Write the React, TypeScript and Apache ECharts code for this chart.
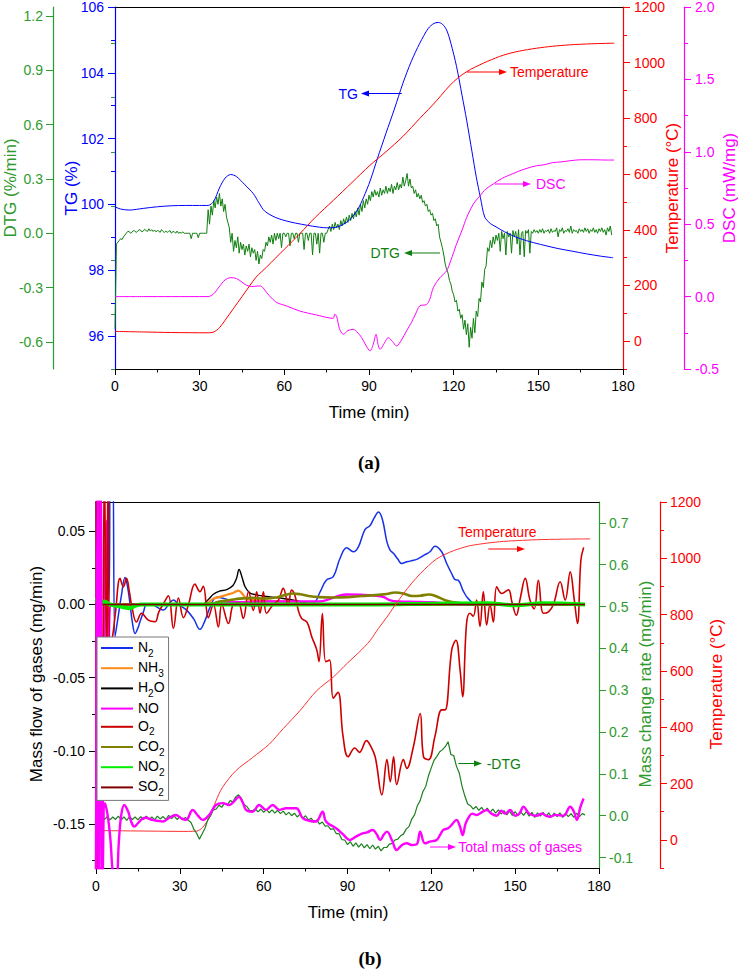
import React, { useEffect, useRef } from 'react';
import * as echarts from 'echarts';

const FONT = '"Liberation Sans", Arial, Helvetica, sans-serif';

// ---------- Panel (a) ----------
const tgData = [[0, 99.93], [2, 99.86], [5, 99.83], [10, 99.88], [15, 99.93], [20, 99.96], [25, 99.97], [30, 99.97], [33, 99.97], [35, 100.1], [37, 100.5], [39, 100.8], [41, 100.91], [43, 100.85], [46, 100.6], [49, 100.33], [51, 100.05], [53, 99.8], [57, 99.6], [62, 99.47], [66, 99.4], [70, 99.34], [75, 99.29], [78, 99.3], [80, 99.36], [83, 99.52], [86, 99.85], [88, 100.2], [90.5, 100.74], [93, 101.4], [96, 102.16], [99, 102.9], [102, 103.68], [105, 104.35], [108, 104.9], [111, 105.35], [113, 105.5], [114.5, 105.53], [116, 105.48], [117.5, 105.3], [119, 104.9], [121, 104.2], [123, 103.3], [124.6, 102.56], [126.5, 101.6], [128, 100.84], [129.5, 100.2], [131, 99.62], [133, 99.42], [135, 99.32], [138, 99.17], [142, 99.01], [147, 98.87], [152, 98.76], [157, 98.66], [162, 98.58], [167, 98.5], [172, 98.43], [176.5, 98.38]];

const tempAData = [[0, 35], [10, 33], [20, 31], [33, 30], [35, 33], [37, 48], [39, 75], [41.9, 116], [45, 160], [47.8, 200], [50, 230], [53.7, 266], [60, 330], [65.5, 386], [71, 445], [77.3, 505], [84, 570], [90.3, 631], [96, 680], [102, 735], [108, 800], [114, 864], [117, 900], [120, 932], [123, 957], [126, 976], [129, 991], [132, 1005], [137.6, 1027], [143, 1041], [149.4, 1052], [155, 1059], [161, 1064], [169, 1068], [176.9, 1070]];

const dscData = [[0, 0.0], [10, 0.0], [20, 0.0], [33, 0.0], [35, 0.02], [37, 0.07], [39, 0.115], [41, 0.131], [43, 0.125], [45, 0.1], [46.6, 0.078], [48.5, 0.07], [50, 0.072], [51.4, 0.074], [52.5, 0.06], [53.7, 0.028], [55.5, -0.01], [57.3, -0.041], [61, -0.066], [65.5, -0.1], [71, -0.125], [77.3, -0.15], [77.9, -0.122], [78.6, -0.14], [79.5, -0.22], [80.9, -0.26], [82.5, -0.235], [84.4, -0.226], [85.8, -0.245], [87.4, -0.283], [89, -0.34], [90.4, -0.375], [91.5, -0.33], [92.5, -0.26], [93.2, -0.33], [93.9, -0.364], [95.5, -0.32], [96.8, -0.283], [98.3, -0.31], [99.8, -0.341], [101.5, -0.3], [103.3, -0.237], [105, -0.18], [106.5, -0.12], [108, -0.064], [110.4, -0.055], [111.5, -0.02], [112.8, 0.062], [115.1, 0.13], [117.5, 0.178], [119, 0.25], [121, 0.362], [123, 0.46], [124.6, 0.546], [127, 0.64], [129.3, 0.695], [131.5, 0.745], [134, 0.777], [137, 0.815], [141.1, 0.85], [145, 0.88], [149.4, 0.904], [152, 0.91], [155, 0.925], [158, 0.93], [161.2, 0.938], [165, 0.945], [170, 0.945], [174, 0.943], [176.9, 0.943]];

// DTG (%/min), one value every half minute from t = 0
const dtgA = [
  -0.53, -0.06, -0.05, -0.04, -0.03, -0.035, -0.02, -0.01, 0.0, 0.01, 0.01, 0.0, 0.005, 0.015, 0.012, 0.005, 0.01, 0.02, 0.018, 0.008,
  0.012, 0.022, 0.015, 0.01, 0.025, 0.012, 0.02, 0.01, 0.018, 0.008, 0.015, 0.012, 0.005, 0.02, 0.01, 0.004, 0.012, 0.005, 0.01, 0.015,
  0.0, 0.01, 0.008, 0.0, 0.012, 0.0, 0.005, 0.0, 0.008, 0.0, 0.0, 0.0, 0.0, 0.0, -0.03, 0.0, 0.0, 0.0, 0.0, -0.025,
  0.0, 0.0, 0.0, 0.0, 0.0, 0.0, 0.13, 0.05, 0.15, 0.1, 0.18, 0.14, 0.2, 0.16, 0.22, 0.15, 0.19, 0.12, 0.16, 0.09,
  0.06, 0.03, -0.05, 0.0, -0.1, -0.04, -0.08, -0.02, -0.11, -0.05, -0.09, -0.06, -0.12, -0.07, -0.1, -0.06, -0.13, -0.08, -0.11, -0.09,
  -0.15, -0.1, -0.17, -0.12, -0.14, -0.09, -0.1, -0.05, -0.07, -0.02, -0.05, -0.01, -0.06, 0.0, -0.04, 0.0, -0.03, 0.0, -0.08, 0.0,
  0.0, -0.02, 0.0, 0.0, -0.07, 0.0, 0.0, -0.03, 0.0, 0.0, -0.05, 0.0, 0.0, 0.0, -0.09, 0.0, 0.0, -0.04, 0.0, 0.0,
  -0.12, 0.0, 0.0, -0.06, 0.0, -0.11, 0.0, 0.0, -0.05, 0.0, 0.0, 0.02, 0.04, 0.01, 0.05, 0.02, 0.06, 0.03, 0.05, 0.02,
  0.07, 0.04, 0.08, 0.05, 0.09, 0.06, 0.1, 0.07, 0.11, 0.08, 0.12, 0.09, 0.14, 0.1, 0.16, 0.12, 0.18, 0.14, 0.19, 0.16,
  0.21, 0.18, 0.23, 0.2, 0.24, 0.21, 0.23, 0.2, 0.25, 0.21, 0.24, 0.22, 0.26, 0.22, 0.25, 0.23, 0.27, 0.22, 0.26, 0.24,
  0.28, 0.24, 0.27, 0.25, 0.31, 0.26, 0.29, 0.33, 0.26, 0.3, 0.25, 0.26, 0.22, 0.24, 0.2, 0.22, 0.19, 0.21, 0.17, 0.18,
  0.15, 0.16, 0.12, 0.13, 0.1, 0.11, 0.07, 0.08, 0.04, 0.05, -0.02, -0.05, -0.08, -0.12, -0.17, -0.2, -0.22, -0.26, -0.28, -0.32,
  -0.34, -0.38, -0.37, -0.43, -0.42, -0.47, -0.45, -0.53, -0.48, -0.56, -0.5, -0.63, -0.52, -0.58, -0.47, -0.55, -0.43, -0.46, -0.36, -0.38,
  -0.27, -0.3, -0.2, -0.18, -0.08, -0.1, -0.04, -0.08, -0.02, -0.06, -0.01, -0.04, 0.0, -0.1, 0.01, -0.03, 0.0, -0.12, 0.01, -0.02,
  0.0, -0.11, 0.015, -0.02, 0.01, -0.06, 0.02, -0.12, 0.0, 0.01, -0.13, 0.015, 0.0, 0.02, -0.11, 0.01, 0.0, 0.02, 0.005, 0.015,
  0.0, 0.02, 0.005, 0.025, 0.0, 0.015, 0.01, 0.02, 0.0, 0.025, 0.005, 0.015, 0.01, 0.03, -0.02, 0.02, 0.01, 0.03, 0.0, 0.015,
  0.01, 0.025, 0.005, 0.04, 0.0, 0.02, 0.01, 0.015, 0.0, 0.025, 0.01, 0.02, 0.005, 0.03, 0.01, 0.025, 0.0, 0.02, 0.01, 0.03,
  0.005, 0.02, 0.0, 0.025, 0.01, 0.03, 0.005, 0.02, -0.01, 0.03, 0.01, 0.04, -0.01];

// ---------- Panel (b) ----------
const gasNames = ['N2', 'NH3', 'H2O', 'NO', 'O2', 'CO2', 'NO2', 'SO2'];

const n2Data = [[0, 0.1], [0.4, -0.2], [0.9, 0.1], [1.5, 0.0], [2.5, 0.0], [4.5, 0.0], [5.2, 0.1], [5.9, 0.1], [6.8, -0.022], [7.8, -0.01], [9, 0.005], [10.4, 0.0184], [11.3, 0.012], [12.2, 0.0], [13, -0.012], [14, -0.0198], [15, -0.016], [15.7, -0.012], [17, -0.005], [18.1, 0.0], [20, 0.0], [22, -0.002], [24.1, -0.0038], [26, 0.0], [27.7, 0.003], [29.5, 0.0], [32.5, -0.004], [35, -0.01], [37.2, -0.017], [39, -0.011], [40.8, -0.002], [43.1, 0.005], [46, 0.004], [49.1, 0.002], [52, 0.001], [56.3, -0.001], [61, 0.0], [67, 0.0], [73, 0.0], [77.8, 0.001], [80.2, 0.0086], [82.4, 0.0166], [84.9, 0.019], [87.3, 0.0314], [89.7, 0.0387], [92.1, 0.036], [93.9, 0.0394], [96.2, 0.051], [98.1, 0.054], [99.5, 0.059], [101.1, 0.0632], [102.5, 0.058], [104.1, 0.0428], [105.3, 0.037], [106.5, 0.0348], [108, 0.031], [109.4, 0.028], [111, 0.029], [112.4, 0.0296], [115, 0.031], [117.7, 0.034], [119.5, 0.036], [121.3, 0.0398], [123.7, 0.036], [125.5, 0.028], [127.3, 0.021], [128.5, 0.017], [129.6, 0.0166], [131.5, 0.009], [133.2, 0.004], [136.2, 0.0], [140, 0.0], [150, 0.0], [160, 0.0], [175, 0.0]];

const nh3Data = [[0, 0], [38, 0], [40, 0.001], [42, 0.004], [44, 0.005], [46.8, 0.0066], [49, 0.0078], [51, 0.0095], [52.5, 0.007], [53.8, 0.004], [56, 0.003], [60, 0.0027], [65, 0.0022], [70, 0.002], [75, 0.001], [80, 0.0], [175, 0]];

const h2oData = [[0, 0], [38, 0], [39, 0.001], [40.5, 0.004], [42, 0.007], [44, 0.009], [46.8, 0.0102], [49, 0.013], [50.3, 0.018], [51.2, 0.0239], [52.2, 0.019], [53.4, 0.0119], [55, 0.008], [56.3, 0.007], [61, 0.0055], [67, 0.0041], [73, 0.002], [75.5, 0.0007], [78, 0], [175, 0]];

const noData = [[0, -0.2], [0.4, 0.1], [0.9, -0.2], [1.5, 0.1], [2.2, -0.2], [3, 0.0], [3.8, 0.057], [4.5, -0.03], [5.5, 0.0], [40, 0], [45, 0.002], [50, 0.0015], [60, 0.002], [70, 0.002], [80, 0.002], [84, 0.004], [87, 0.006], [90, 0.0068], [95, 0.0066], [100, 0.006], [103, 0.005], [105, 0.003], [108, 0.002], [115, 0.0018], [120, 0.0015], [125, 0.0008], [130, 0.0], [175, 0]];

const o2Data = [[0, 0.1], [0.7, -0.2], [1.5, 0.1], [2.3, -0.1], [3, 0.1], [3.8, -0.05], [4.3, 0.1], [5, -0.03], [6, -0.021], [7, -0.005], [8.6, 0.0178], [9.8, 0.012], [10.9, 0.0178], [12, 0.008], [12.7, 0.0], [14.5, -0.012], [16.3, -0.006], [18.7, -0.0107], [21.1, -0.0118], [22.5, -0.005], [24, 0.0], [25.9, 0.006], [27.7, -0.0164], [29.5, 0.0044], [31.3, -0.009], [33.1, 0.0], [35.4, 0.0139], [37.2, 0.0087], [38.4, 0.0125], [40.2, -0.009], [42, 0.0], [43.8, -0.0153], [45, 0.0], [47.4, -0.013], [49.1, 0.0], [50.9, 0.001], [52.7, -0.0096], [54.6, 0.0087], [56.3, -0.004], [57.5, 0.0087], [58.7, -0.006], [59.9, 0.0087], [61, -0.006], [63.4, 0.0], [65.3, 0.003], [67, 0.011], [68.8, 0.0], [70, 0.0098], [71.2, 0.006], [72.4, -0.004], [73.6, -0.0096], [75.5, -0.012], [77.2, -0.022], [79, -0.031], [79.8, -0.039], [81, -0.0062], [82.2, -0.039], [83.6, -0.038], [84.9, -0.064], [86.6, -0.06], [88.4, -0.09], [90.2, -0.104], [92.6, -0.098], [94.3, -0.101], [96.8, -0.093], [98.1, -0.096], [99.9, -0.104], [102.3, -0.13], [104.1, -0.106], [105.3, -0.121], [106.5, -0.104], [107.6, -0.123], [110, -0.106], [111.2, -0.112], [113.6, -0.097], [116, -0.0745], [117.2, -0.104], [119, -0.106], [121.3, -0.09], [123.7, -0.072], [124.9, -0.072], [127.3, -0.031], [128.8, -0.0244], [130.3, -0.045], [131.2, -0.063], [132.6, -0.013], [133.8, -0.006], [135, -0.008], [136.2, 0.003], [137.4, -0.015], [138.6, 0.0086], [139.8, -0.014], [141, 0.0], [142.2, -0.012], [143.4, 0.012], [145.2, 0.0075], [147.6, 0.01], [148.8, 0.002], [150.4, -0.0073], [151.8, 0.004], [153.6, 0.0178], [155.3, 0.003], [156.8, -0.003], [158.3, 0.0166], [160.1, -0.006], [161.9, -0.005], [163.7, 0.0], [166.1, 0.0155], [167.9, 0.003], [169.7, 0.0223], [171.1, 0.004], [172.3, -0.013], [173.5, 0.03], [174.5, 0.039]];

const co2Data = [[0, 0], [40, 0], [44.4, 0.002], [48, 0.003], [51.5, 0.004], [56, 0.0045], [60, 0.004], [65, 0.005], [70.5, 0.0075], [73, 0.007], [76, 0.0058], [80, 0.005], [85, 0.0048], [90, 0.005], [95, 0.0058], [100, 0.0064], [104, 0.0072], [107, 0.0082], [110, 0.0075], [113, 0.0058], [116, 0.006], [119, 0.0068], [121, 0.0062], [124.9, 0.0029], [127, 0.0018], [130, 0.001], [134, 0.0], [175, 0]];

const no2Data = [[0, 0.002], [0.5, 0.003], [1.5, 0.001], [3, 0.002], [5, 0.0], [8, -0.001], [10, -0.002], [12, -0.0025], [14, -0.001], [16, 0.0], [100, 0.0], [120, 0.0005], [140, 0.0008], [150, -0.0005], [160, 0.0008], [175, 0.0]];

const so2Data = [[0, -0.2], [0.5, 0.1], [1, 0.0], [175, 0.0]];

const tempBData = [[0, 33], [10, 32], [20, 31], [30, 30], [36, 31], [38.2, 45], [40.6, 80], [43, 140], [45.3, 187], [50.1, 246], [56, 292], [62, 340], [67, 395], [73, 459], [79, 530], [84.9, 578], [90, 628], [94, 665], [98.1, 708], [101, 750], [104.1, 791], [107, 833], [110, 874], [113, 912], [116, 945], [119, 974], [121.9, 998], [124.9, 1014], [127.9, 1027], [130.9, 1037], [133.9, 1045], [140, 1054], [145.8, 1060], [151, 1063], [157.7, 1066], [167, 1068], [176.8, 1069]];

// -DTG (mg/min), one value per minute from t = 0
const negDtgB = [
  0.02, 0.002, -0.001, -0.009, -0.002, -0.01, -0.003, -0.009, -0.001, -0.01,
  -0.003, -0.011, -0.002, -0.009, -0.003, -0.01, -0.002, -0.009, -0.001, -0.009,
  -0.003, -0.01, -0.001, -0.008, -0.002, -0.009, 0.001, -0.007, -0.001, -0.009,
  -0.002, -0.01, -0.004, -0.011, -0.016, -0.032, -0.042, -0.056, -0.043, -0.03,
  -0.01, 0.0, 0.014, 0.016, 0.025, 0.02, 0.03, 0.026, 0.036, 0.033,
  0.045, 0.05, 0.042, 0.026, 0.022, 0.012, 0.012, 0.016, 0.009, 0.016,
  0.008, 0.015, 0.007, 0.014, 0.006, 0.013, 0.005, 0.011, 0.002, 0.008,
  0.0, 0.006, -0.003, 0.004, -0.006, 0.0, -0.01, -0.006, -0.015, -0.01,
  -0.02, -0.015, -0.025, -0.024, -0.033, -0.031, -0.043, -0.043, -0.057, -0.058,
  -0.069, -0.062, -0.073, -0.065, -0.075, -0.067, -0.077, -0.069, -0.079, -0.07,
  -0.08, -0.073, -0.084, -0.076, -0.076, -0.068, -0.066, -0.058, -0.056, -0.048,
  -0.044, -0.032, -0.026, -0.008, 0.002, 0.024, 0.036, 0.058, 0.07, 0.096,
  0.115, 0.133, 0.142, 0.153, 0.158, 0.165, 0.177, 0.146, 0.144, 0.118,
  0.102, 0.07, 0.047, 0.028, 0.024, 0.016, 0.022, 0.013, 0.02, 0.01,
  0.018, 0.008, 0.016, 0.006, 0.014, 0.004, 0.012, 0.002, 0.011, 0.001,
  0.01, 0.0, 0.009, 0.001, 0.01, -0.001, 0.008, -0.004, 0.007, -0.001,
  0.008, -0.002, 0.007, -0.003, 0.006, -0.002, 0.007, -0.004, 0.006, -0.002,
  0.005, -0.004, 0.006, -0.002, 0.005, 0.002];

const totalGasData = [[0, -0.2], [0.5, 0.8], [1.1, -0.2], [1.7, 0.8], [2.4, -0.15], [3.2, 0.03], [4.2, 0.0], [5.2, -0.06], [6.1, -0.14], [7.2, -0.16], [8.2, -0.06], [9, 0.0], [10.1, 0.0256], [11.5, 0.01], [12.5, -0.012], [13.7, -0.026], [15, -0.018], [16.5, -0.008], [17.9, -0.005], [20, -0.01], [22, -0.012], [23.9, -0.014], [26, -0.006], [28.6, 0.0017], [30.5, -0.006], [32.2, -0.01], [34.6, 0.0137], [36.5, 0.0], [38.2, -0.01], [40.5, 0.0017], [42.9, 0.0256], [45.3, 0.03], [47.7, 0.0256], [49.5, 0.035], [51.1, 0.045], [52.5, 0.032], [53.7, 0.014], [56, 0.0096], [58.4, 0.0256], [60.8, 0.014], [63.2, 0.0256], [65.6, 0.014], [68, 0.0177], [71.6, 0.0177], [74, -0.006], [76.3, -0.012], [78.7, -0.014], [81.1, 0.0096], [82.3, -0.014], [85.9, -0.03], [88.5, -0.045], [90.7, -0.058], [93, -0.05], [95.4, -0.042], [97, -0.04], [99, -0.034], [100.5, -0.045], [101.7, -0.058], [103, -0.045], [104.1, -0.038], [106, -0.06], [107.6, -0.082], [109.5, -0.07], [111.2, -0.066], [113, -0.07], [114.8, -0.068], [116, -0.038], [117.7, -0.066], [119.5, -0.062], [121.9, -0.058], [123.2, -0.045], [124.3, -0.034], [126, -0.03], [127.5, -0.02], [129, -0.01], [130.2, -0.025], [131.2, -0.046], [132.2, -0.02], [133.2, -0.006], [134.6, 0.005], [136.2, 0.0017], [138, 0.008], [139.8, 0.0137], [141.5, 0.005], [143.4, 0.0], [145, 0.012], [146.5, 0.005], [148.2, 0.0137], [150, 0.0], [151.5, 0.005], [153, 0.0216], [155, 0.005], [157.7, 0.0], [159.5, 0.005], [161, 0.0], [162.5, -0.0024], [164.5, 0.002], [167.3, 0.0], [169.7, 0.0216], [171, 0.01], [172.1, -0.01], [173.3, 0.02], [174.5, 0.041]];

// ---------- tick labels ----------
const tgMajor = [96, 98, 100, 102, 104, 106];
const tgMinor = [95, 97, 99, 101, 103, 105];
const dtgMajor = [-0.6, -0.3, 0, 0.3, 0.6, 0.9, 1.2];
const dtgMinor = [-0.75, -0.45, -0.15, 0.15, 0.45, 0.75, 1.05];
const tempMajor = [0, 200, 400, 600, 800, 1000, 1200];
const tempMinor = [-100, 100, 300, 500, 700, 900, 1100];
const dscMajor = [-0.5, 0, 0.5, 1, 1.5, 2];
const dscMinor = [-0.25, 0.25, 0.75, 1.25, 1.75];
const flowMajor = [-0.15, -0.1, -0.05, 0, 0.05];
const flowMinor = [-0.175, -0.125, -0.075, -0.025, 0.025];
const rateMajor = [-0.1, 0, 0.1, 0.2, 0.3, 0.4, 0.5, 0.6, 0.7];
const rateMinor = [-0.05, 0.05, 0.15, 0.25, 0.35, 0.45, 0.55, 0.65];

const C = {
  blue: '#0000FF',
  red: '#FF0000',
  magenta: '#FF00FF',
  greenAxis: '#2E9A2E',
  greenLine: '#0F7F0F',
};

function yPair(o: any) {
  const base = {
    type: 'value', gridIndex: o.grid, position: o.pos, offset: o.offset, min: o.min, max: o.max,
    splitLine: { show: false }, minorTick: { show: false }, minorSplitLine: { show: false },
  };
  const main = {
    ...base,
    axisLine: { show: true, onZero: false, lineStyle: { color: o.color, width: 1.2 } },
    axisTick: { show: true, inside: false, length: 7, customValues: o.major, lineStyle: { color: o.color } },
    axisLabel: { show: true, customValues: o.major, formatter: o.fmt, color: o.color, fontSize: 14, fontFamily: FONT, margin: o.margin },
  };
  const minor = {
    ...base,
    axisLine: { show: false },
    axisTick: { show: true, inside: false, length: 4, customValues: o.minor, lineStyle: { color: o.color } },
    axisLabel: { show: false },
  };
  return [main, minor];
}

function xPair(grid: number, margin: number) {
  return [
    {
      type: 'value', gridIndex: grid, position: 'bottom', min: 0, max: 180, interval: 30,
      axisLine: { show: true, onZero: false, lineStyle: { color: '#000', width: 1.2 } },
      axisTick: { show: true, inside: false, length: 6, lineStyle: { color: '#000' } },
      minorTick: { show: true, splitNumber: 2, length: 3.5, lineStyle: { color: '#000' } },
      axisLabel: { color: '#000', fontSize: 14, fontFamily: FONT, margin },
      splitLine: { show: false },
    },
    {
      type: 'value', gridIndex: grid, position: 'top', min: 0, max: 180,
      axisLine: { show: true, onZero: false, lineStyle: { color: '#000', width: 1.2 } },
      axisTick: { show: false }, axisLabel: { show: false }, splitLine: { show: false },
    },
  ];
}

function line(name: string, data: any[], xi: number, yi: number, color: string, width: number, smooth: any) {
  return {
    type: 'line', name, data, xAxisIndex: xi, yAxisIndex: yi, showSymbol: false, symbol: 'none',
    smooth, clip: true, silent: true,
    lineStyle: { color, width }, itemStyle: { color },
  };
}

function txt(text: string, x: number, y: number, color: string, size: number, align = 'center', rot = 0, weight = 'normal', family = FONT) {
  return {
    type: 'text', x, y, rotation: rot, silent: true,
    style: { text, fill: color, fontSize: size, fontFamily: family, fontWeight: weight, textAlign: align, textVerticalAlign: 'middle' },
  };
}

function arrow(x1: number, x2: number, y: number, color: string) {
  const dir = x2 > x1 ? 1 : -1;
  const hb = x2 - dir * 8;
  return [
    { type: 'line', silent: true, shape: { x1, y1: y, x2: hb, y2: y }, style: { stroke: color, lineWidth: 1 } },
    { type: 'polygon', silent: true, shape: { points: [[x2, y], [hb, y - 3], [hb, y + 3]] }, style: { fill: color } },
  ];
}

const gasColors: Record<string, [string, number]> = {
  N2: ['#1530E8', 1.5], NH3: ['#FF8C1A', 2.2], H2O: ['#000000', 1.4], NO: ['#FF00FF', 2.4],
  O2: ['#CC0000', 1.6], CO2: ['#808000', 2.6], NO2: ['#00EE00', 4], SO2: ['#800000', 1.6],
};
const gasData: Record<string, any[]> = {
  N2: n2Data, NH3: nh3Data, H2O: h2oData, NO: noData, O2: o2Data, CO2: co2Data, NO2: no2Data, SO2: so2Data,
};

export default function App() {
  const ref = useRef<HTMLDivElement>(null);
  useEffect(() => {
    if (!ref.current) return;
    const chart = echarts.init(ref.current, null, { renderer: 'svg' });
    const f1 = (v: number) => v.toFixed(1);
    const f0 = (v: number) => String(Math.round(v));
    const f2 = (v: number) => v.toFixed(2);

    const yAxes = [
      ...yPair({ grid: 0, pos: 'left', offset: 0, min: 95, max: 106, color: C.blue, major: tgMajor, minor: tgMinor, fmt: f0, margin: 11 }),
      ...yPair({ grid: 0, pos: 'left', offset: 62, min: -0.75, max: 1.25, color: C.greenAxis, major: dtgMajor, minor: dtgMinor, fmt: f1, margin: 10 }),
      ...yPair({ grid: 0, pos: 'right', offset: 0, min: -100, max: 1200, color: C.red, major: tempMajor, minor: tempMinor, fmt: f0, margin: 11 }),
      ...yPair({ grid: 0, pos: 'right', offset: 61, min: -0.5, max: 2, color: C.magenta, major: dscMajor, minor: dscMinor, fmt: f1, margin: 11 }),
      ...yPair({ grid: 1, pos: 'left', offset: 0, min: -0.18, max: 0.07, color: '#000', major: flowMajor, minor: flowMinor, fmt: f2, margin: 11 }),
      ...yPair({ grid: 1, pos: 'right', offset: 0, min: -0.125, max: 0.75, color: C.greenAxis, major: rateMajor, minor: rateMinor, fmt: f1, margin: 10 }),
      ...yPair({ grid: 1, pos: 'right', offset: 61, min: -100, max: 1200, color: C.red, major: tempMajor, minor: tempMinor, fmt: f0, margin: 10 }),
    ];

    const series: any[] = [
      line('DTG', dtgA.map((v, i) => [i * 0.5, v]), 0, 2, C.greenLine, 1, false),
      line('TG', tgData, 0, 0, C.blue, 1, 0.3),
      line('DSC', dscData, 0, 6, C.magenta, 1, 0.3),
      line('Temperature', tempAData, 0, 4, C.red, 1, 0.3),
    ];
    gasNames.forEach((n) => {
      series.push(line(n, gasData[n], 2, 8, gasColors[n][0], gasColors[n][1], 0.4));
    });
    series.push(line('Temperature b', tempBData, 2, 12, '#FF3030', 1, 0.3));
    series.push(line('-DTG', negDtgB.map((v, i) => [i, v]), 2, 10, '#1E7F1E', 1.2, false));
    series.push(line('Total mass of gases', totalGasData, 2, 10, C.magenta, 2.4, 0.4));

    const serif = '"Liberation Serif", "Times New Roman", serif';
    const graphic: any[] = [
      txt('DTG (%/min)', 10, 188, C.greenAxis, 17, 'center', Math.PI / 2),
      txt('TG (%)', 71, 188, C.blue, 17, 'center', Math.PI / 2),
      txt('Temperature (°C)', 672, 188, C.red, 17, 'center', Math.PI / 2),
      txt('DSC (mW/mg)', 729, 188, C.magenta, 17, 'center', Math.PI / 2),
      txt('Time (min)', 369, 412, '#000', 17),
      txt('(a)', 369, 462, '#000', 19, 'center', 0, 'bold', serif),
      txt('TG', 358, 94, C.blue, 14, 'right'),
      ...arrow(401.7, 361, 93.5, C.blue),
      txt('Temperature', 510, 72, C.red, 14, 'left'),
      ...arrow(466.7, 507, 72, C.red),
      txt('DSC', 536, 184, C.magenta, 14, 'left'),
      ...arrow(495, 531, 184, C.magenta),
      txt('DTG', 400, 253, C.greenLine, 14, 'right'),
      ...arrow(440, 404, 253, C.greenLine),

      txt('Mass flow of gases (mg/min)', 36, 674, '#000', 17, 'center', Math.PI / 2),
      txt('Mass change rate (mg/min)', 645, 684, C.greenAxis, 17, 'center', Math.PI / 2),
      txt('Temperature (°C)', 716, 684, C.red, 17, 'center', Math.PI / 2),
      txt('Time (min)', 348, 912, '#000', 17),
      txt('(b)', 370, 958, '#000', 19, 'center', 0, 'bold', serif),
      txt('Temperature', 458, 532, C.red, 14, 'left'),
      ...arrow(488.3, 525, 549, C.red),
      txt('-DTG', 486.7, 763.5, C.greenLine, 14, 'left'),
      ...arrow(458.3, 482, 763.5, C.greenLine),
      txt('Total mass of gases', 458.3, 847, C.magenta, 14, 'left'),
      ...arrow(430, 456, 847, C.magenta),
    ];

    chart.setOption({
      animation: false,
      backgroundColor: '#fff',
      textStyle: { fontFamily: FONT },
      grid: [
        { left: 115, top: 7, width: 508, height: 362, outerBoundsMode: 'none' },
        { left: 96, top: 502, width: 503, height: 366, outerBoundsMode: 'none' },
      ],
      xAxis: [...xPair(0, 10), ...xPair(1, 11)],
      yAxis: yAxes,
      legend: {
        data: gasNames,
        orient: 'vertical',
        left: 97,
        top: 637,
        itemWidth: 32,
        itemHeight: 14,
        itemGap: 2.2,
        padding: [3, 4, 3, 3],
        borderColor: '#777',
        borderWidth: 1,
        backgroundColor: '#fff',
        selectedMode: false,
        itemStyle: { opacity: 0 },
        formatter: (name: string) => name.replace(/([A-Za-z]+)|(\d+)/g, (m: string, a: string, d: string) => (a ? `{n|${a}}` : `{s|${d}}`)),
        textStyle: {
          fontSize: 14, fontFamily: FONT, color: '#000',
          rich: {
            n: { fontSize: 14, fontFamily: FONT, color: '#000', lineHeight: 16, padding: [0, 0, 2, 0], verticalAlign: 'top' },
            s: { fontSize: 10, fontFamily: FONT, color: '#000', lineHeight: 10, padding: [8, 0, 0, 0], verticalAlign: 'top' },
          },
        },
      },
      series,
      graphic,
    });
    return () => chart.dispose();
  }, []);
  return <div ref={ref} style={{ position: 'absolute', left: 0, top: 0, width: 738, height: 970, background: '#fff' }} />;
}
